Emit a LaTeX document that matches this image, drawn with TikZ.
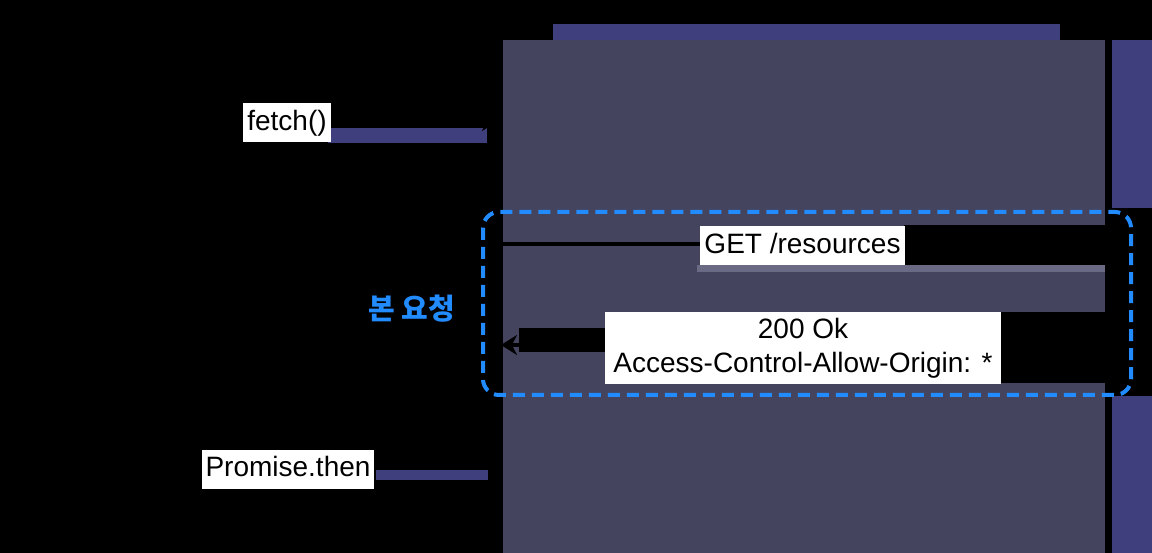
\documentclass[tikz,border=0pt]{standalone}
\usepackage{fontspec}
\setmainfont{Liberation Sans}
\newfontfamily\krfont{Noto Sans CJK KR}
\usetikzlibrary{arrows.meta}
\definecolor{panelgray}{RGB}{69,68,95}
\definecolor{stripblue}{RGB}{63,63,126}
\definecolor{dashblue}{RGB}{34,140,255}
\definecolor{bandgray}{RGB}{107,106,133}
\tikzset{
  actor/.style={font=\fontsize{28}{32}\selectfont\bfseries, text=black, inner sep=0pt},
  lifeline/.style={line width=3pt, draw=black},
  msg/.style={line width=3.5pt, draw=black, -{Stealth[length=16pt,width=20pt]}},
  msglabel/.style={fill=white, font=\fontsize{28}{34}\selectfont, text=black, inner xsep=4pt, inner ysep=6pt, text height=21pt, text depth=6pt, yshift=-2pt},
  msglabeltwo/.style={fill=white, font=\fontsize{28}{34}\selectfont, text=black, align=center, inner xsep=8pt, inner ysep=6pt, yshift=-3pt},
  corsbox/.style={draw=dashblue, line width=4pt, dash pattern=on 12pt off 7pt, rounded corners=16pt},
  corslabel/.style={font=\fontsize{29}{32}\selectfont\krfont\bfseries, text=dashblue, inner sep=0pt}
}
\begin{document}
\begin{tikzpicture}[x=1pt,y=-1pt]
\useasboundingbox (0,0) rectangle (1152,553);
\fill[black] (0,0) rectangle (1152,553);
\fill[panelgray] (503,40) rectangle (1105,553);
\fill[stripblue] (553,24) rectangle (1060,40);
\fill[stripblue] (1112,40) rectangle (1152,553);
\fill[black] (1112,208) rectangle (1152,396);
\fill[black] (904,225) rectangle (1105,265);
\fill[bandgray] (697,265) rectangle (1105,272);
\fill[black] (1000,312) rectangle (1105,383);
\fill[black] (519,328) rectangle (608,352);
\fill[stripblue] (328,128) rectangle (487,143);
\fill[stripblue] (376,470) rectangle (488,480);

\node[actor] (js) at (76,22) {JavaScript};
\node[actor] (browser) at (500,22) {Browser};
\node[actor] (server) at (1107,22) {Server};

\coordinate (jstop) at (76,40);
\coordinate (jsbot) at (76,553);
\coordinate (browsertop) at (500,40);
\coordinate (browserbot) at (500,553);
\coordinate (servertop) at (1107,40);
\coordinate (serverbot) at (1107,553);
\draw[lifeline] (jstop) -- (jsbot);
\draw[lifeline] (browsertop) -- (browserbot);
\draw[lifeline] (servertop) -- (serverbot);

\coordinate (fetchfrom) at (76,121);
\coordinate (fetchto) at (498,121);
\draw[msg] (fetchfrom) -- node[msglabel] (fetch) {fetch()} (fetchto);

\draw[corsbox] (483,212) rectangle (1131,395);
\node[corslabel] (cors) at (412,309) {본 요청};

\coordinate (getfrom) at (500,244);
\coordinate (getto) at (1105,244);
\draw[msg] (getfrom) -- node[msglabel] (get) {GET /resources} (getto);

\coordinate (okfrom) at (1105,345);
\coordinate (okto) at (501,345);
\draw[msg] (okfrom) -- node[msglabeltwo] (ok) {200 Ok\\Access-Control-Allow-Origin: *} (okto);

\coordinate (thenfrom) at (498,468);
\coordinate (thento) at (78,468);
\draw[msg] (thenfrom) -- node[msglabel, yshift=1pt] (then) {Promise.then} (thento);
\end{tikzpicture}
\end{document}
